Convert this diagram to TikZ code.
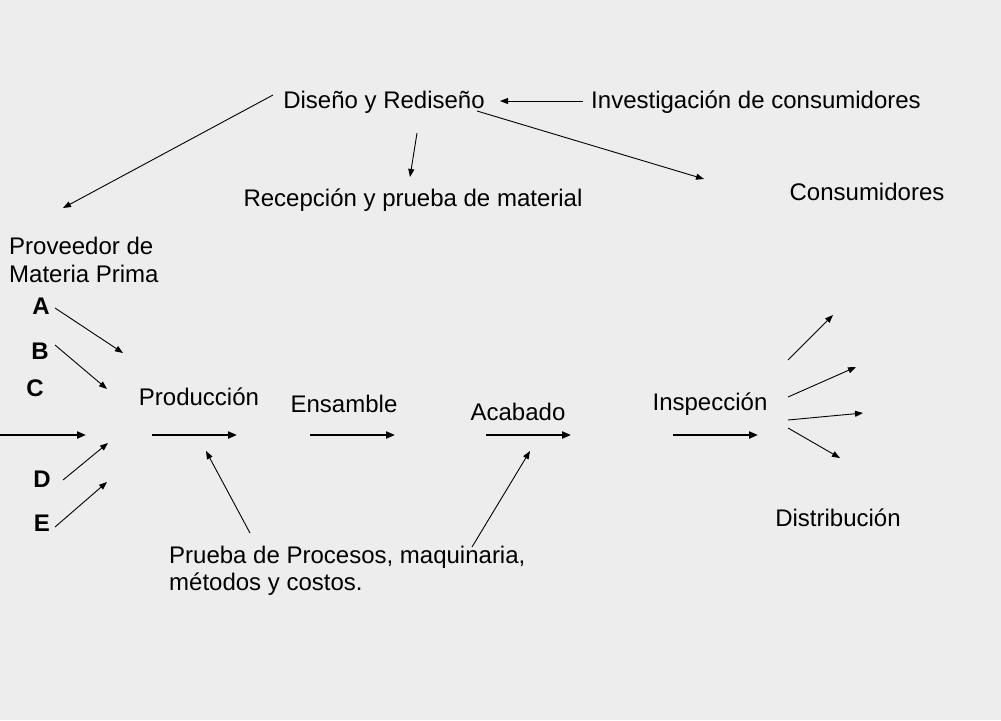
\documentclass[tikz,border=0pt]{standalone}
\usepackage{fontspec}
\setmainfont{Liberation Sans}
\usetikzlibrary{arrows.meta}
\definecolor{bgcol}{RGB}{237,237,237}
\begin{document}
\begin{tikzpicture}[x=1pt,y=-1pt,
  lbl/.style={inner sep=0pt, font=\fontsize{24}{27.5}\selectfont},
  letter/.style={lbl, font=\fontsize{24}{27.5}\selectfont\bfseries},
  thin arrow/.style={-{Triangle[length=8pt,width=6pt]}, line width=0.9pt},
  flow arrow/.style={-{Triangle[length=9pt,width=7pt]}, line width=2pt}]
\fill[bgcol] (0,0) rectangle (1001,720);
\useasboundingbox (0,0) rectangle (1001,720);

% texts
\node[lbl] (dis) at (384,102) {Diseño y Rediseño};
\node[lbl] (inv) at (756,102) {Investigación de consumidores};
\node[lbl] (rec) at (413,200) {Recepción y prueba de material};
\node[lbl] (con) at (867,192) {Consumidores};
\node[lbl, anchor=west, align=left] (prov) at (9,260) {Proveedor de\\Materia Prima};
\node[letter] (A) at (41,306) {A};
\node[letter] (B) at (40,351) {B};
\node[letter] (C) at (35,388) {C};
\node[letter] (D) at (42,479) {D};
\node[letter] (E) at (42,523) {E};
\node[lbl] (prod) at (199,397) {Producción};
\node[lbl] (ens) at (344,404) {Ensamble};
\node[lbl] (aca) at (518,412) {Acabado};
\node[lbl] (insp) at (710,404) {Inspección};
\node[lbl] (dist) at (838,518) {Distribución};
\node[lbl, anchor=west, align=left] (prueba) at (169,571) {Prueba de Procesos, maquinaria,\\métodos y costos.};

% arrow endpoints
\coordinate (d1s) at (273,95);  \coordinate (d1e) at (63,208);
\coordinate (i1s) at (583,101); \coordinate (i1e) at (500,101);
\coordinate (r1s) at (417,133); \coordinate (r1e) at (410,177);
\coordinate (c1s) at (477,111); \coordinate (c1e) at (704,179);
\coordinate (as) at (55,308);  \coordinate (ae) at (123,353);
\coordinate (bs) at (55,345);  \coordinate (be) at (107,389);
\coordinate (cs) at (0,435);   \coordinate (ce) at (86,435);
\coordinate (ds) at (63,480);  \coordinate (de) at (108,443);
\coordinate (es) at (55,527);  \coordinate (ee) at (107,482);
\coordinate (p1s) at (152,435); \coordinate (p1e) at (237,435);
\coordinate (p2s) at (310,435); \coordinate (p2e) at (395,435);
\coordinate (p3s) at (486,435); \coordinate (p3e) at (571,435);
\coordinate (p4s) at (673,435); \coordinate (p4e) at (758,435);
\coordinate (x1s) at (788,360); \coordinate (x1e) at (833,315);
\coordinate (x2s) at (788,397); \coordinate (x2e) at (856,367);
\coordinate (x3s) at (788,420); \coordinate (x3e) at (863,413);
\coordinate (x4s) at (788,428); \coordinate (x4e) at (840,458);
\coordinate (q1s) at (250,533); \coordinate (q1e) at (206,451);
\coordinate (q2s) at (472,547); \coordinate (q2e) at (530,451);

% thin arrows
\draw[thin arrow] (d1s) -- (d1e);
\draw[thin arrow] (i1s) -- (i1e);
\draw[thin arrow] (r1s) -- (r1e);
\draw[thin arrow] (c1s) -- (c1e);
\draw[thin arrow] (as) -- (ae);
\draw[thin arrow] (bs) -- (be);
\draw[thin arrow] (ds) -- (de);
\draw[thin arrow] (es) -- (ee);
\draw[thin arrow] (x1s) -- (x1e);
\draw[thin arrow] (x2s) -- (x2e);
\draw[thin arrow] (x3s) -- (x3e);
\draw[thin arrow] (x4s) -- (x4e);
\draw[thin arrow] (q1s) -- (q1e);
\draw[thin arrow] (q2s) -- (q2e);

% flow arrows
\draw[flow arrow] (cs) -- (ce);
\draw[flow arrow] (p1s) -- (p1e);
\draw[flow arrow] (p2s) -- (p2e);
\draw[flow arrow] (p3s) -- (p3e);
\draw[flow arrow] (p4s) -- (p4e);
\end{tikzpicture}
\end{document}
